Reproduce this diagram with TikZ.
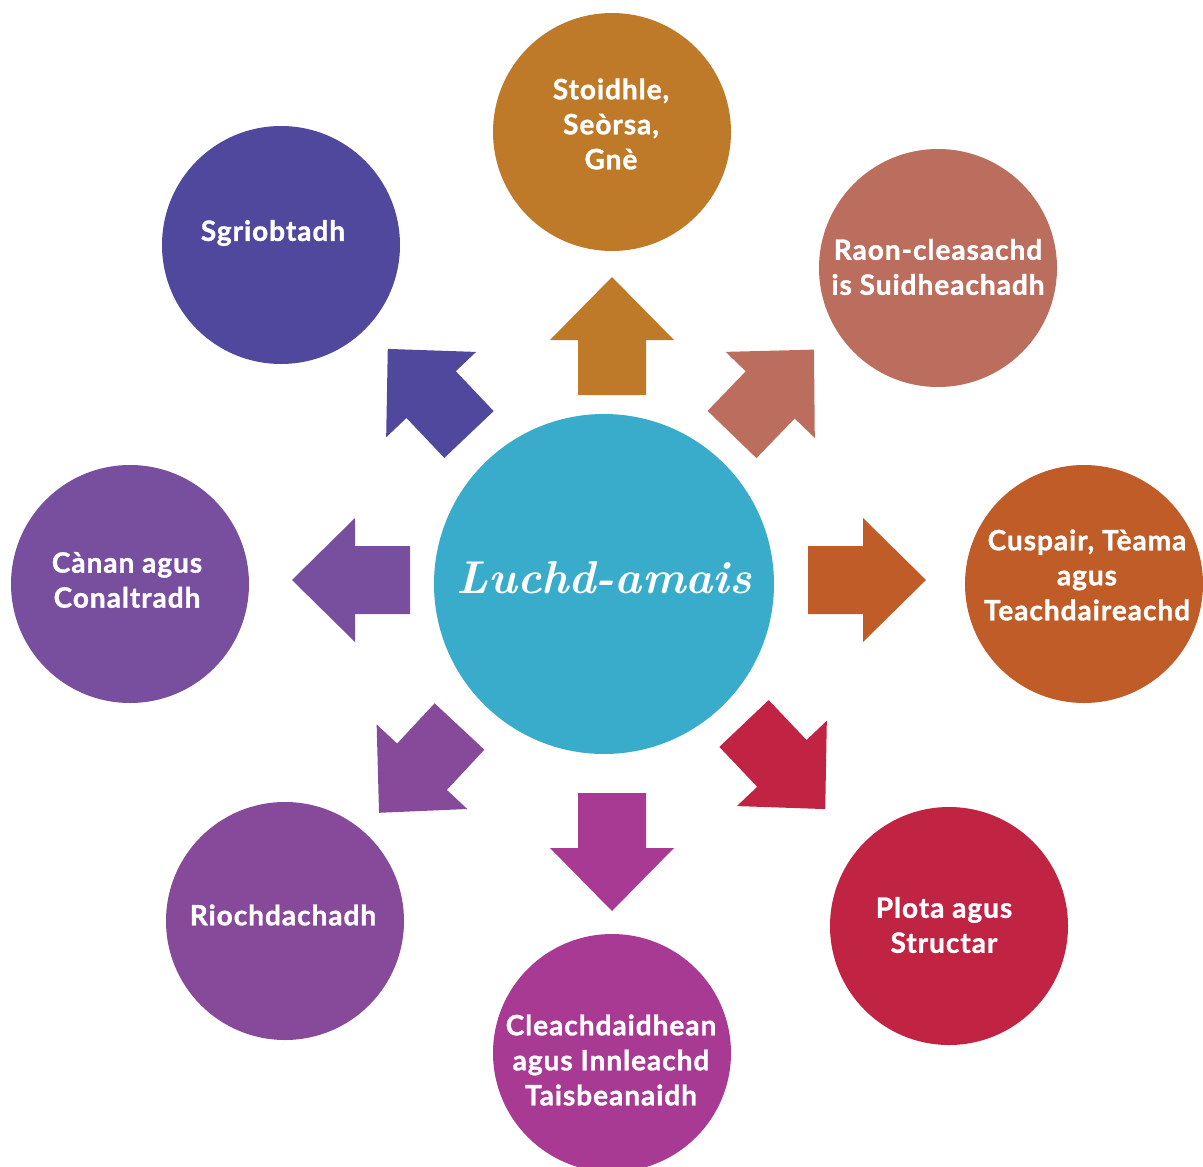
\documentclass[tikz,border=0pt]{standalone}
\usepackage{fontspec}
\newfontfamily\latofont[BoldFeatures={FakeBold=1.2,LetterSpace=3.5}]{Lato}
\definecolor{cCtr}{HTML}{3AACCB}
\definecolor{cStoid}{HTML}{BE7A28}
\definecolor{cRaon}{HTML}{BC6E5E}
\definecolor{cCusp}{HTML}{C05C27}
\definecolor{cPlota}{HTML}{C12443}
\definecolor{cCleach}{HTML}{A93A93}
\definecolor{cRioch}{HTML}{874A9A}
\definecolor{cCanan}{HTML}{784E9E}
\definecolor{cSgriob}{HTML}{50489C}
\newcommand\blockarr[3]{\fill[#1,shift={(#2)},rotate=#3] (0,-34) -- (55,-34) -- (55,-62) -- (118,0) -- (55,62) -- (55,34) -- (0,34) -- cycle;}
\begin{document}
\begin{tikzpicture}[x=1pt,y=-1pt,
  bubble/.style={circle,inner sep=0pt,minimum size=238pt},
  lbl/.style={text=white,align=center,font=\latofont\bfseries\fontsize{28}{35}\selectfont}]
\useasboundingbox (0,0) rectangle (1203,1167);
\clip (0,0) rectangle (1203,1167);
% circles
\node[circle,inner sep=0pt,minimum size=340pt,fill=cCtr] (ctr) at (604,584) {};
\node[bubble,fill=cStoid] (stoid) at (612,132) {};
\node[bubble,fill=cRaon] (raon) at (938,268) {};
\node[bubble,fill=cCusp] (cusp) at (1084,584) {};
\node[bubble,fill=cPlota] (plota) at (949,926) {};
\node[bubble,fill=cCleach] (cleach) at (612,1053) {};
\node[bubble,fill=cRioch] (rioch) at (285,921) {};
\node[bubble,fill=cCanan] (canan) at (130,584) {};
\node[bubble,fill=cSgriob] (sgriob) at (281,245) {};
% labels
\node[text=white,font=\bfseries\itshape\fontsize{46}{56}\selectfont] (ctrl) at (604,578) {Luchd-amais};
\node[lbl] (stoidl) at (611,124) {Stoidhle,\\Seòrsa,\\Gnè};
\node[lbl] (raonl) at (938,267) {Raon-cleasachd\\is Suidheachadh};
\node[lbl] (cuspl) at (1087,575) {Cuspair, Tèama\\agus\\Teachdaireachd};
\node[lbl] (plotal) at (944,925) {Plota agus\\Structar};
\node[lbl] (cleachl) at (611,1060) {Cleachdaidhean\\agus Innleachd\\Taisbeanaidh};
\node[lbl] (riochl) at (283,915) {Riochdachadh};
\node[lbl] (cananl) at (127,580) {Cànan agus\\Conaltradh};
\node[lbl] (sgriobl) at (273,233) {Sgriobtadh};
% arrow tails
\coordinate (aUp) at (612,395);
\coordinate (aUR) at (732,434.5);
\coordinate (aR) at (808,580);
\coordinate (aDR) at (744,723.5);
\coordinate (aD) at (612,793);
\coordinate (aDL) at (459.5,726.5);
\coordinate (aL) at (410,580);
\coordinate (aUL) at (469,434.5);
\blockarr{cStoid}{aUp}{90}
\blockarr{cRaon}{aUR}{46}
\blockarr{cCusp}{aR}{0}
\blockarr{cPlota}{aDR}{-46.5}
\blockarr{cCleach}{aD}{-90}
\blockarr{cRioch}{aDL}{-133}
\blockarr{cCanan}{aL}{180}
\blockarr{cSgriob}{aUL}{133.5}
\end{tikzpicture}
\end{document}
